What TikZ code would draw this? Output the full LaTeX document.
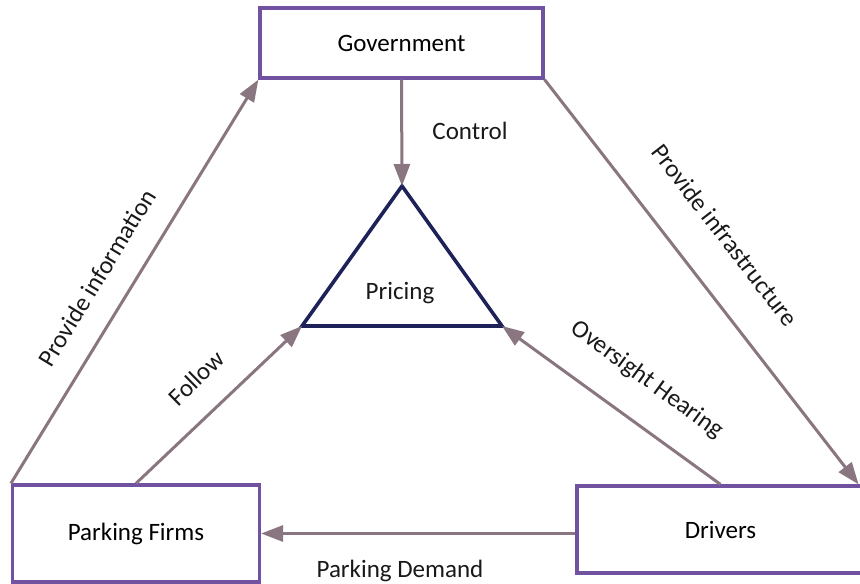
\documentclass[tikz,border=0pt]{standalone}
\usepackage{fontspec}
\setmainfont{Carlito}
\usetikzlibrary{calc,arrows.meta}
\definecolor{boxline}{RGB}{112,82,160}
\definecolor{arrowline}{RGB}{138,118,128}
\definecolor{triline}{RGB}{30,34,88}

\begin{document}
\begin{tikzpicture}[x=1pt,y=-1pt,
    font=\fontsize{25}{30}\selectfont,
    actor/.style={draw=boxline,line width=3.2pt,fill=white,inner sep=0pt},
    flow/.style={draw=arrowline,line width=3pt,-{Triangle[length=22pt,width=16pt]}},
    lbl/.style={inner sep=0pt,text=black!90}]
		%%%%% START %%%%%
		\useasboundingbox (0,0) rectangle (860,584);
		
		\node[actor,minimum width=283,minimum height=70] (gov) at (401.5,43) {Government};
		\node[actor,minimum width=247,minimum height=97] (firms) at (136,533.5) {Parking Firms};
		\node[actor,minimum width=287,minimum height=87] (drivers) at (720.5,529.5) {Drivers};
		
		\coordinate (tritop) at (402,186);
		\coordinate (trileft) at (302,326);
		\coordinate (triright) at (502,326);
		\draw[triline,line width=3.6pt,line join=miter] (tritop) -- (triright) -- (trileft) -- cycle;
		\node[lbl] (pricing) at (400,293) {Pricing};
		
		\draw[flow] (gov.south) -- (tritop);
		\draw[flow] (firms.north west) -- (gov.south west);
		\draw[flow] (gov.south east) -- ($(drivers.north east)+(-7,0)$);
		\draw[flow] (firms.north) -- (trileft);
		\draw[flow] (drivers.north) -- (triright);
		\draw[flow] (drivers.west |- firms.east) -- (firms.east);
		
		\node[lbl] (control) at (470,131) {Control};
		\node[lbl,rotate=58.7] (provinfo) at (97,278) {Provide information};
		\node[lbl,rotate=-52.3] (provinfra) at (725,235) {Provide infrastructure};
		\node[lbl,rotate=44.5] (follow) at (196,378) {Follow};
		\node[lbl,rotate=-36.1] (oversight) at (647,380) {Oversight Hearing};
		\node[lbl] (demand) at (400,571) {Parking Demand};
		%%%%% END %%%%%
\end{tikzpicture}
\end{document}
